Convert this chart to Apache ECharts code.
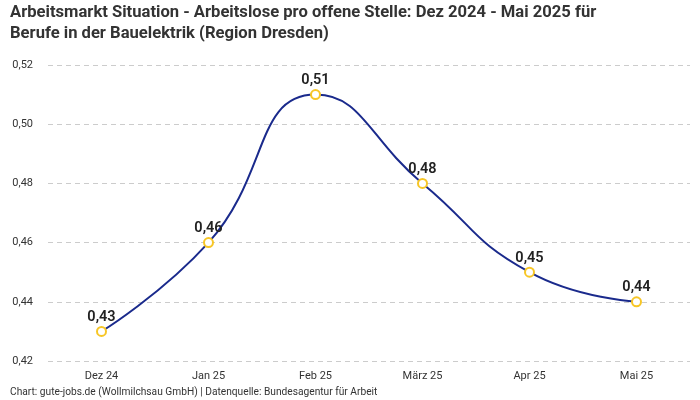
<!DOCTYPE html>
<html><head><meta charset="utf-8">
<script src="https://cdn.jsdelivr.net/npm/echarts@6/dist/echarts.min.js"></script>
<style>html,body{margin:0;padding:0;background:#fff}#c{width:700px;height:400px}</style>
</head><body><div id="c"></div>
<script>
const categories = ['Dez 24','Jan 25','Feb 25','März 25','Apr 25','Mai 25'];
const values = [0.43, 0.46, 0.51, 0.48, 0.45, 0.44];
const fmt = v => v.toFixed(2).replace('.', ',');
const chart = echarts.init(document.getElementById('c'));
chart.setOption({
  animation: false,
  title: [{
    text: 'Arbeitsmarkt Situation - Arbeitslose pro offene Stelle: Dez 2024 - Mai 2025 für\nBerufe in der Bauelektrik (Region Dresden)',
    left: 10, top: 2, padding: 0,
    textStyle: {fontFamily: 'Roboto', fontWeight: 'bold', fontSize: 16.6, color: '#333', lineHeight: 21}
  }, {
    text: 'Chart: gute-jobs.de (Wollmilchsau GmbH) | Datenquelle: Bundesagentur für Arbeit',
    left: 10, top: 387, padding: 0,
    textStyle: {fontFamily: 'Roboto', fontWeight: 'normal', fontSize: 10.2, color: '#333'}
  }],
  grid: {left: 48, right: 10, top: 65, bottom: 39},
  xAxis: {
    type: 'category', data: categories, boundaryGap: true,
    axisLine: {show: false}, axisTick: {show: false},
    axisLabel: {fontFamily: 'Roboto', fontSize: 11, color: '#333', margin: 10}
  },
  yAxis: {
    type: 'value', min: 0.42, max: 0.52, interval: 0.02,
    axisLabel: {fontFamily: 'Roboto', fontSize: 11, color: '#333', margin: 15, formatter: v => fmt(v)},
    splitLine: {lineStyle: {type: [5, 4], color: '#ccc'}}
  },
  series: [{
    type: 'line', data: values, smooth: true,
    lineStyle: {color: '#1a2a8c', width: 2},
    symbol: 'circle', symbolSize: 9,
    itemStyle: {color: '#fff', borderColor: '#f7c626', borderWidth: 2},
    label: {show: true, position: 'top', distance: 1, formatter: p => fmt(p.value),
      fontFamily: 'Roboto', fontWeight: 600, fontSize: 14.5, color: '#222'}
  }]
});
</script></body></html>
